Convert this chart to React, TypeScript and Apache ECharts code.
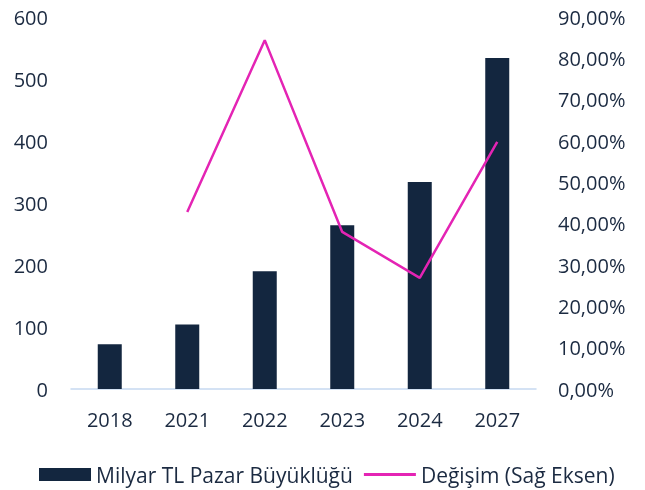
import React, { useEffect, useRef } from "react";
import * as echarts from "echarts";

const categories = ["2018", "2021", "2022", "2023", "2024", "2027"];
const marketSize = [72, 104, 190, 264, 334, 534];
const changePct = [null, 42.8, 84.4, 38.0, 26.9, 59.8];
const leftTicks = { min: 0, max: 600, interval: 100 };
const rightTicks = { min: 0, max: 90, interval: 10 };

const TEXT = "#1b2a41";
const FONT = "'Open Sans', sans-serif";
const LINE = "#e424b4";

export default function App() {
  const ref = useRef<HTMLDivElement>(null);
  useEffect(() => {
    const chart = echarts.init(ref.current!, null, { renderer: "svg" });
    chart.setOption({
      animation: false,
      textStyle: { fontFamily: FONT, color: TEXT },
      grid: { left: 71, right: 109, top: 17, bottom: 101 },
      legend: {
        left: 34,
        top: 459,
        itemWidth: 52,
        itemHeight: 13,
        itemGap: 11,
        textStyle: { fontFamily: FONT, fontSize: 21, color: TEXT },
        data: [
          { name: "Milyar TL Pazar Büyüklüğü", icon: "rect" },
          { name: "Değişim (Sağ Eksen)", icon: "path://M0,0H52V3H0Z" },
        ],
      },
      xAxis: {
        type: "category",
        data: categories,
        axisLine: { lineStyle: { color: "#c6d9f1", width: 1.5 } },
        axisTick: { show: false },
        axisLabel: { fontFamily: FONT, fontSize: 20, color: TEXT, margin: 20 },
      },
      yAxis: [
        {
          type: "value",
          ...leftTicks,
          splitLine: { show: false },
          axisLine: { show: false },
          axisTick: { show: false },
          axisLabel: { fontFamily: FONT, fontSize: 20, color: TEXT, margin: 23 },
        },
        {
          type: "value",
          position: "right",
          ...rightTicks,
          splitLine: { show: false },
          axisLine: { show: false },
          axisTick: { show: false },
          axisLabel: {
            fontFamily: FONT,
            fontSize: 20,
            color: TEXT,
            margin: 22,
            formatter: (v: number) => v.toFixed(2).replace(".", ",") + "%",
          },
        },
      ],
      series: [
        {
          name: "Milyar TL Pazar Büyüklüğü",
          type: "bar",
          data: marketSize,
          barWidth: 24,
          itemStyle: { color: "#13263f" },
        },
        {
          name: "Değişim (Sağ Eksen)",
          type: "line",
          yAxisIndex: 1,
          data: changePct,
          showSymbol: false,
          symbol: "none",
          lineStyle: { color: LINE, width: 2.5 },
          itemStyle: { color: LINE },
        },
      ],
    });
    return () => chart.dispose();
  }, []);
  return (
    <div
      ref={ref}
      style={{ position: "fixed", left: 0, top: 0, width: 645, height: 490 }}
    />
  );
}
